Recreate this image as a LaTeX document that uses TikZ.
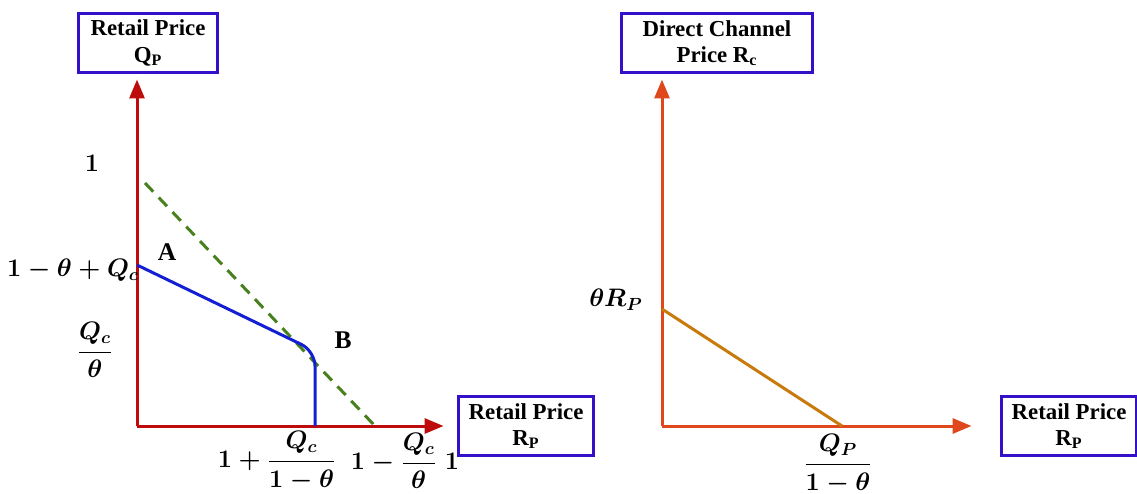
\documentclass[tikz,border=0pt]{standalone}
\usepackage{fontspec}
\setmainfont{Liberation Serif}
\usepackage{amsmath, amssymb}
\usetikzlibrary{positioning, arrows.meta, calc}
\definecolor{axisred}{RGB}{190,12,12}
\definecolor{axisorange}{RGB}{222,72,28}
\definecolor{boxblue}{RGB}{52,16,200}
\definecolor{curveblue}{RGB}{20,30,210}
\definecolor{dashgreen}{RGB}{72,128,30}
\definecolor{lineorange}{RGB}{200,122,12}
\tikzset{
  pricebox/.style={draw=boxblue, line width=0.06cm, fill=white, align=center,
    font=\fontsize{13}{15}\selectfont\bfseries, inner xsep=6pt, inner ysep=2pt},
  axis/.style={line width=0.06cm, -{Triangle[length=0.38cm, width=0.3cm]}},
  lab/.style={font=\fontsize{14.5}{16}\selectfont\bfseries\boldmath, inner sep=1pt}
}

\begin{document}
\begin{tikzpicture}[x=0.02cm, y=-0.02cm]
    \useasboundingbox (0,0) rectangle (1137,494);
    % left panel
    \coordinate (oL) at (137,426);
    \node[pricebox, minimum width=2.78cm, minimum height=1.2cm] (qpbox) at (148,43) {Retail Price\\Q\textsubscript{P}};
    \node[pricebox, minimum width=2.68cm, minimum height=1.18cm] (rpboxL) at (526,426) {Retail Price\\R\textsubscript{P}};
    \draw[axis, axisred, shorten >=0.1cm] (oL) -- (oL |- qpbox.south);
    \draw[axis, axisred, shorten >=0.26cm] (oL) -- (oL -| rpboxL.west);
    \coordinate (gtop) at (145,183);
    \coordinate (gbot) at (375,426);
    \draw[dashgreen, line width=0.06cm, dash pattern=on 0.24cm off 0.16cm] (gtop) -- (gbot);
    \coordinate (bstart) at (137,265);
    \coordinate (bbase) at (315,426);
    \draw[curveblue, line width=0.06cm, rounded corners=0.3cm] (bstart) -- (315,351) -- (bbase);
    \node[lab] (lone) at (92,163) {$1$};
    \node[lab] (lA) at (167,252) {A};
    \node[lab] (lcut) at (73,270) {$1-\theta+Q_c$};
    \node[lab] (lqt) at (95,350) {$\dfrac{Q_c}{\theta}$};
    \node[lab] (lB) at (343,340) {B};
    \node[lab] (lbx) at (277,461) {$1+\dfrac{Q_c}{1-\theta}$};
    \node[lab] (lgx) at (405,461) {$1-\dfrac{Q_c}{\theta}\;1$};
    % right panel
    \coordinate (oR) at (662,426);
    \node[pricebox, minimum width=3.82cm, minimum height=1.2cm] (rcbox) at (717,43) {Direct Channel\\Price R\textsubscript{c}};
    \node[pricebox, minimum width=2.62cm, minimum height=1.18cm] (rpboxR) at (1069,426) {Retail Price\\R\textsubscript{P}};
    \draw[axis, axisorange, shorten >=0.1cm] (oR) -- (oR |- rcbox.south);
    \draw[axis, axisorange, shorten >=0.56cm] (oR) -- (oR -| rpboxR.west);
    \coordinate (ytop) at (662,309);
    \coordinate (xend) at (842,426);
    \draw[lineorange, line width=0.06cm] (ytop) -- (xend);
    \node[lab] (ltr) at (616,300) {$\theta R_P$};
    \node[lab] (lqp) at (838,464) {$\dfrac{Q_P}{1-\theta}$};
\end{tikzpicture}
\end{document}
